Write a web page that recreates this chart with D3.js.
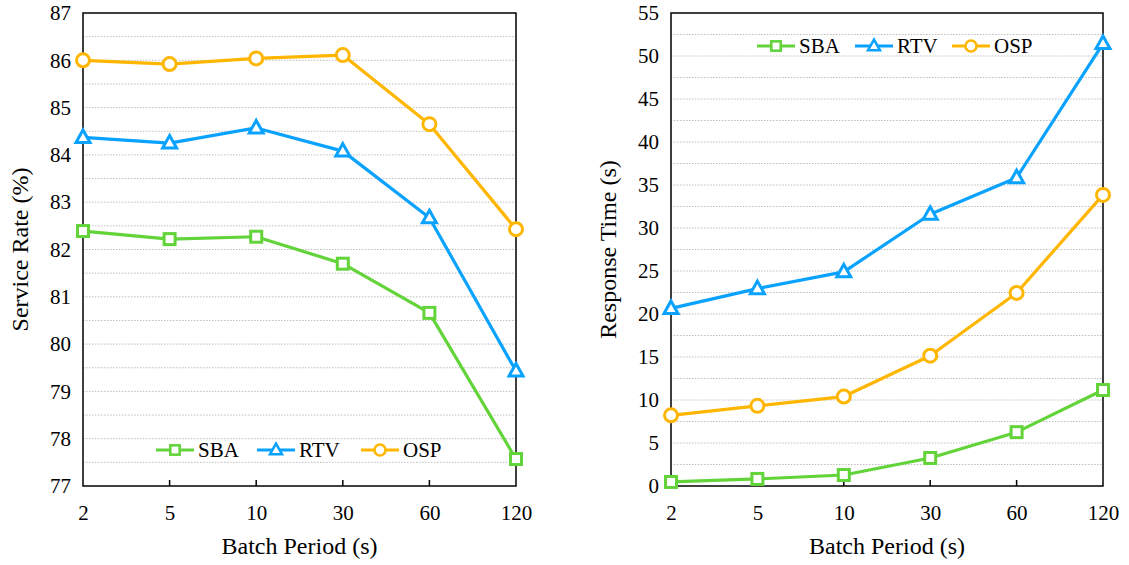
<!DOCTYPE html>
<html>
<head>
<meta charset="utf-8">
<script src="https://cdn.jsdelivr.net/npm/d3@7"></script>
<style>
  html, body { margin: 0; padding: 0; background: #fff; }
  svg text { font-family: 'Liberation Serif', 'Times New Roman', Times, serif !important; fill: #000; }
</style>
</head>
<body>
<svg id="chart" width="1129" height="565"></svg>
<script>
// Batch periods (s) shared by both panels
const periods = ["2", "5", "10", "30", "60", "120"];
const seriesNames = ["SBA", "RTV", "OSP"];

// Service rate (%)
const rateSBA = [82.39, 82.22, 82.27, 81.70, 80.66, 77.57];
const rateRTV = [84.37, 84.25, 84.57, 84.08, 82.67, 79.43];
const rateOSP = [86.00, 85.92, 86.04, 86.11, 84.65, 82.43];

// Response time (s)
const timeSBA = [0.47, 0.82, 1.28, 3.26, 6.26, 11.16];
const timeRTV = [20.65, 22.95, 24.90, 31.60, 35.85, 51.45];
const timeOSP = [8.22, 9.32, 10.40, 15.15, 22.45, 33.85];

const rateTicks = [77, 78, 79, 80, 81, 82, 83, 84, 85, 86, 87];
const timeTicks = [0, 5, 10, 15, 20, 25, 30, 35, 40, 45, 50, 55];

const colors = { SBA: "#62d43a", RTV: "#0aa2ff", OSP: "#ffb600" };
const shapes = { SBA: "square", RTV: "triangle", OSP: "circle" };

const serif = "'Liberation Serif', 'Times New Roman', Times, serif";
const svg = d3.select("#chart");

function drawMarker(g, shape, color, x, y) {
  if (shape === "square") {
    g.append("rect").attr("x", x - 5.5).attr("y", y - 5.5)
      .attr("width", 11).attr("height", 11)
      .attr("fill", "#fff").attr("stroke", color).attr("stroke-width", 3);
  } else if (shape === "triangle") {
    g.append("path")
      .attr("d", `M${x},${y - 7.5}L${x + 7},${y + 5}L${x - 7},${y + 5}Z`)
      .attr("fill", "#fff").attr("stroke", color).attr("stroke-width", 3)
      .attr("stroke-linejoin", "miter");
  } else {
    g.append("circle").attr("cx", x).attr("cy", y).attr("r", 6.5)
      .attr("fill", "#fff").attr("stroke", color).attr("stroke-width", 3);
  }
}

function panel(cfg) {
  const { left, right, top, bottom, domain, ticks, minor, series, yTitle, yTitleX, legend } = cfg;
  const g = svg.append("g");

  const x = d3.scalePoint().domain(periods).range([left, right]).padding(0);
  const y = d3.scaleLinear().domain(domain).range([bottom, top]);

  // dotted horizontal gridlines at half-step intervals
  const gridVals = d3.range(domain[0] + minor, domain[1] - minor / 2, minor);
  g.append("g").selectAll("line").data(gridVals).join("line")
    .attr("x1", left).attr("x2", right)
    .attr("y1", d => y(d)).attr("y2", d => y(d))
    .attr("stroke", "#bdbdbd").attr("stroke-width", 1)
    .attr("stroke-dasharray", "1.5,1.5");

  // y axis labels
  const yAxis = d3.axisLeft(y).tickValues(ticks).tickSize(0).tickPadding(12).tickFormat(d3.format("d"));
  const ya = g.append("g").attr("transform", `translate(${left},0)`).call(yAxis)
    .attr("font-family", serif).attr("font-size", 21);
  ya.select(".domain").remove();
  ya.selectAll("text").style("font-size", "21px").style("font-family", serif);

  // x axis with inward ticks
  const xAxis = d3.axisBottom(x).tickSize(0).tickPadding(19);
  const xa = g.append("g").attr("transform", `translate(0,${bottom})`).call(xAxis)
    .attr("font-family", serif).attr("font-size", 21);
  xa.select(".domain").remove();
  xa.selectAll("text").style("font-size", "21px").style("font-family", serif);
  g.append("g").selectAll("line").data(periods.slice(1, -1)).join("line")
    .attr("x1", d => x(d)).attr("x2", d => x(d))
    .attr("y1", bottom).attr("y2", bottom - 6)
    .attr("stroke", "#000").attr("stroke-width", 1.5);

  // frame
  g.append("rect").attr("x", left).attr("y", top)
    .attr("width", right - left).attr("height", bottom - top)
    .attr("fill", "none").attr("stroke", "#000").attr("stroke-width", 1.5);

  // titles
  g.append("text").attr("x", (left + right) / 2).attr("y", 554)
    .attr("text-anchor", "middle").style("font-size", "24px").text("Batch Period (s)");
  g.append("text")
    .attr("transform", `translate(${yTitleX},${(top + bottom) / 2}) rotate(-90)`)
    .attr("text-anchor", "middle").style("font-size", "24px").text(yTitle);

  // series lines and markers
  const line = d3.line().x((d, i) => x(periods[i])).y(d => y(d));
  series.forEach(s => {
    g.append("path").datum(s.values).attr("d", line)
      .attr("fill", "none").attr("stroke", colors[s.name]).attr("stroke-width", 3.2)
      .attr("stroke-linejoin", "round");
  });
  series.forEach(s => {
    s.values.forEach((v, i) => drawMarker(g, shapes[s.name], colors[s.name], x(periods[i]), y(v)));
  });

  // legend
  const lg = g.append("g");
  seriesNames.forEach((name, i) => {
    const lx = legend.x[i];
    lg.append("line").attr("x1", lx).attr("x2", lx + 38)
      .attr("y1", legend.y).attr("y2", legend.y)
      .attr("stroke", colors[name]).attr("stroke-width", 3.2);
    const mg = lg.append("g").attr("transform", `translate(${lx + 19},${legend.y}) scale(0.85)`);
    drawMarker(mg, shapes[name], colors[name], 0, 0);
    lg.append("text").attr("x", lx + 42).attr("y", legend.y + 7)
      .style("font-size", "21px").text(name);
  });
}

panel({
  left: 83, right: 516, top: 13, bottom: 486,
  domain: [77, 87], ticks: rateTicks, minor: 0.5,
  series: [
    { name: "SBA", values: rateSBA },
    { name: "RTV", values: rateRTV },
    { name: "OSP", values: rateOSP }
  ],
  yTitle: "Service Rate (%)", yTitleX: 28,
  legend: { y: 450, x: [156, 257, 361] }
});

panel({
  left: 671, right: 1103, top: 13, bottom: 486,
  domain: [0, 55], ticks: timeTicks, minor: 2.5,
  series: [
    { name: "SBA", values: timeSBA },
    { name: "RTV", values: timeRTV },
    { name: "OSP", values: timeOSP }
  ],
  yTitle: "Response Time (s)", yTitleX: 616,
  legend: { y: 46, x: [757, 855, 952] }
});
</script>
</body>
</html>
